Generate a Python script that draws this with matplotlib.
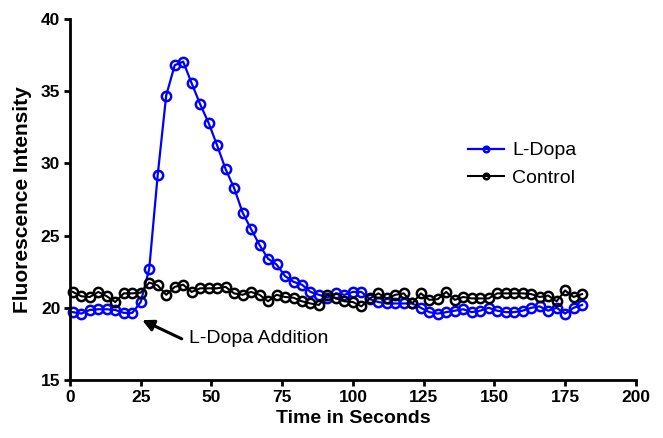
import numpy as np
import matplotlib
matplotlib.use("Agg")
import matplotlib.pyplot as plt

plt.rcParams['font.family'] = ['Liberation Sans', 'DejaVu Sans']

# sample times (s), one reading every 3 s
time_s = np.arange(1, 182, 3)

ldopa = [19.7, 19.6, 19.85, 19.9, 19.9, 19.85, 19.65, 19.65, 20.4, 22.7,
         29.2, 34.7, 36.8, 37.05, 35.55, 34.1, 32.8, 31.25, 29.6, 28.3,
         26.6, 25.45, 24.35, 23.4, 23.0, 22.2, 21.8, 21.6, 21.1, 20.9,
         20.7, 21.0, 20.9, 21.1, 21.1, 20.6, 20.4, 20.3, 20.3, 20.3,
         20.3, 20.0, 19.7, 19.6, 19.7, 19.8, 19.9, 19.7, 19.8, 20.0,
         19.8, 19.7, 19.7, 19.8, 20.0, 20.1, 19.8, 20.0, 19.6, 20.0,
         20.2]

control = [21.1, 20.8, 20.75, 21.1, 20.8, 20.4, 21.0, 21.0, 21.05, 21.75,
           21.55, 20.9, 21.45, 21.6, 21.1, 21.35, 21.35, 21.35, 21.45, 21.0,
           20.9, 21.1, 20.9, 20.45, 20.9, 20.75, 20.7, 20.45, 20.3, 20.2,
           20.9, 20.65, 20.45, 20.4, 20.1, 20.65, 21.0, 20.65, 20.9, 21.0,
           20.3, 21.0, 20.55, 20.6, 21.1, 20.55, 20.75, 20.65, 20.65, 20.65,
           21.0, 21.0, 21.0, 21.0, 20.95, 20.75, 20.85, 20.45, 21.2, 20.75,
           20.95]

fig = plt.figure(figsize=(6.63, 4.38), dpi=100)
ax = fig.add_axes([0.1056, 0.1324, 0.8534, 0.8242])

ax.plot(time_s, control, color='black', lw=1.5, marker='o', ms=6.7,
        mfc='none', mew=1.8, label='Control', clip_on=False, zorder=3)
ax.plot(time_s, ldopa, color='#0000ff', lw=1.6, marker='o', ms=6.7,
        mfc='none', mew=1.8, label='L-Dopa', clip_on=False, zorder=2)

ax.set_xlim(0, 200)
ax.set_ylim(15, 40)
ax.set_xticks(np.arange(0, 201, 25))
ax.set_yticks(np.arange(15, 41, 5))

for s in ['top', 'right']:
    ax.spines[s].set_visible(False)
for s in ['left', 'bottom']:
    ax.spines[s].set_linewidth(2)
ax.tick_params(width=2, length=4, labelsize=12.5, pad=3)
for lab in ax.get_xticklabels() + ax.get_yticklabels():
    lab.set_fontweight('bold')

ax.set_xlabel('Time in Seconds', fontsize=14, fontweight='bold', labelpad=4)
ax.set_ylabel('Fluorescence Intensity', fontsize=15, fontweight='bold', labelpad=6)

h, l = ax.get_legend_handles_labels()
ax.legend(h[::-1], l[::-1], loc='center left', bbox_to_anchor=(0.673, 0.597),
          frameon=False, fontsize=14, markerscale=0.6, handlelength=1.85,
          handletextpad=0.4, labelspacing=0.52)

# arrow pointing at the addition time, label at its tail
ax.annotate('', xy=(25.5, 19.15), xytext=(39.5, 17.85),
            arrowprops=dict(arrowstyle='-|>', color='black', lw=2.2,
                            mutation_scale=17, shrinkA=0, shrinkB=0))
ax.text(42, 17.85, 'L-Dopa Addition', fontsize=14, va='center', ha='left')

fig.savefig('out.png', dpi=100)
